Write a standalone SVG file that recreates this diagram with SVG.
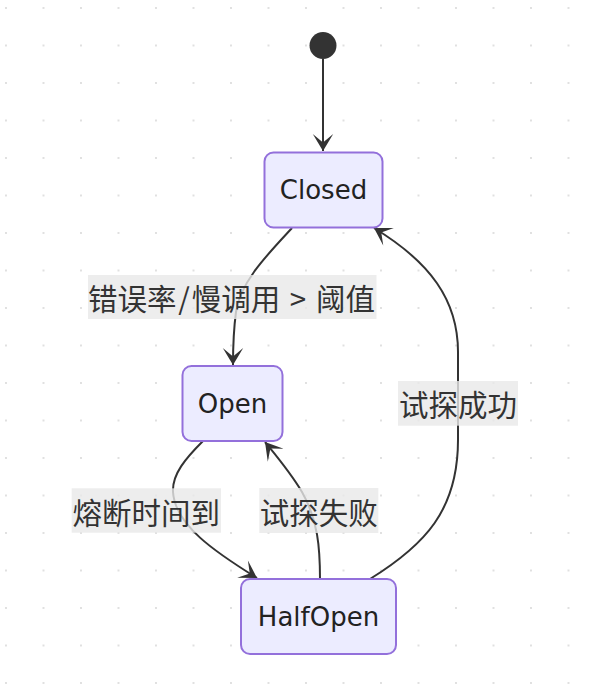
<svg xmlns="http://www.w3.org/2000/svg" width="595" height="688" viewBox="0 0 595 688">
<style>
.node rect{fill:#ECECFF;stroke:#9370DB;stroke-width:2}
.ntext{font-family:"DejaVu Sans","Noto Sans CJK SC",sans-serif;font-size:26px;fill:#222;text-anchor:middle;dominant-baseline:central}
.edge{fill:none;stroke:#333;stroke-width:2}
.lbg{fill:rgba(232,232,232,0.8)}
.ltext{font-family:"Noto Sans CJK SC","DejaVu Sans",sans-serif;font-size:29.5px;fill:#333;text-anchor:middle;dominant-baseline:central}
</style>
<defs>
<pattern id="dots" x="5" y="7" width="37.5" height="37.5" patternUnits="userSpaceOnUse">
<rect x="0" y="0" width="2" height="2" fill="#e0e0e0"/>
</pattern>
<marker id="barb" viewBox="0 0 20 14" refX="19" refY="7" markerWidth="34" markerHeight="23.8" markerUnits="userSpaceOnUse" orient="auto">
<path d="M19,7 L9,13 L14,7 L9,1 Z" fill="#333"/>
</marker>
</defs>
<rect width="595" height="688" fill="#fff"/>
<rect width="595" height="688" fill="url(#dots)"/>
<g id="connectors">
<path class="edge" d="M323,59 L323,151" marker-end="url(#barb)"/>
<path class="edge" d="M292,228 C268,254 240,282 236,312 C233,334 233,348 233,365" marker-end="url(#barb)"/>
<path class="edge" d="M203,441 C186,458 172,474 173,492 C175,525 215,552 257,578" marker-end="url(#barb)"/>
<path class="edge" d="M320,579 C320,548 318,520 302,492 C290,472 278,458 265,442" marker-end="url(#barb)"/>
<path class="edge" d="M370,579 C425,545 458,510 458,440 L458,352 C458,300 430,262 374,228" marker-end="url(#barb)"/>
</g>
<g id="labels">
<rect class="lbg" x="88" y="275" width="288.5" height="44"/>
<text class="ltext" y="297"><tspan x="88" style="text-anchor:start">错误率</tspan><tspan x="184">/</tspan><tspan x="191.7" style="text-anchor:start">慢调用</tspan><tspan x="298">&gt;</tspan><tspan x="316" style="text-anchor:start">阈值</tspan></text>
<rect class="lbg" x="398" y="381" width="120" height="44.7"/>
<text class="ltext" x="458" y="403">试探成功</text>
<rect class="lbg" x="71.7" y="488.3" width="149.3" height="44.4"/>
<text class="ltext" x="146.3" y="510.5">熔断时间到</text>
<rect class="lbg" x="259.3" y="488" width="119" height="45"/>
<text class="ltext" x="318.8" y="510.5">试探失败</text>
</g>
<g id="start"><circle cx="323" cy="45.5" r="13.5" fill="#333"/></g>
<g id="Closed" class="node"><rect x="264.5" y="152.5" width="118" height="75" rx="9" ry="9"/><text class="ntext" x="323.5" y="190">Closed</text></g>
<g id="Open" class="node"><rect x="182.5" y="366" width="100" height="75" rx="9" ry="9"/><text class="ntext" x="232.5" y="403.5">Open</text></g>
<g id="HalfOpen" class="node"><rect x="241" y="579" width="155" height="75" rx="9" ry="9"/><text class="ntext" x="318.5" y="616.5">HalfOpen</text></g>
</svg>
